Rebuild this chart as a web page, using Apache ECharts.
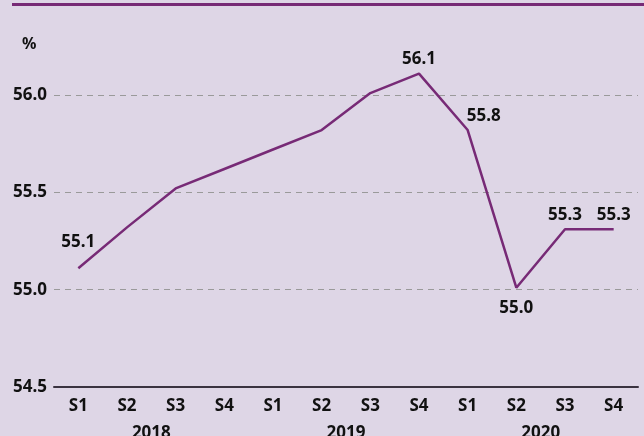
<!DOCTYPE html>
<html>
<head>
<meta charset="utf-8">
<script src="https://cdn.jsdelivr.net/npm/echarts@6/dist/echarts.min.js"></script>
<style>
  html, body { margin: 0; padding: 0; background: #ded6e6; }
  #chart { width: 644px; height: 436px; }
</style>
</head>
<body>
<div id="chart"></div>
<script>
// categories (semesters) and year groups
const semesters = ["S1", "S2", "S3", "S4", "S1", "S2", "S3", "S4", "S1", "S2", "S3", "S4"];
const years = ["2018", "2019", "2020"];
// series values
const values = [55.11, 55.32, 55.52, 55.62, 55.72, 55.82, 56.01, 56.11, 55.82, 55.01, 55.31, 55.31];
// y-axis ticks
const yMin = 54.5;
const yMax = 56.0;
const yStep = 0.5;

// which points carry a value label, and where
const labelSpots = {
  0: { position: "top", offset: [0, -12] },
  7: { position: "top", offset: [0, 0] },
  8: { position: "top", offset: [16, 1] },
  9: { position: "bottom", offset: [0, 6] },
  10: { position: "top", offset: [0, 0] },
  11: { position: "top", offset: [0, 0] },
};

const font = "Noto Sans";
const ink = "#111111";
const purple = "#772a76";

const seriesData = values.map((v, i) => {
  const spot = labelSpots[i];
  return {
    value: v,
    label: spot
      ? { show: true, position: spot.position, offset: spot.offset }
      : { show: false },
  };
});

const myChart = echarts.init(document.getElementById("chart"));
const option = {
  backgroundColor: "#ded6e6",
  animation: false,
  textStyle: { fontFamily: font },
  graphic: [
    {
      type: "rect",
      shape: { x: 12, y: 3, width: 632, height: 3 },
      style: { fill: purple },
    },
    {
      type: "text",
      left: 22,
      top: 36,
      style: { text: "%", fontSize: 16, fontWeight: "bold", fontFamily: font, fill: ink },
    },
  ],
  grid: { left: 54, right: 6, top: 95, bottom: 49, containLabel: false, outerBoundsMode: "none" },
  xAxis: [
    {
      type: "category",
      data: semesters,
      position: "bottom",
      axisLine: { show: true, lineStyle: { color: "#3a3340", width: 2 } },
      axisTick: { show: false },
      axisLabel: { color: ink, fontSize: 17, fontWeight: "bold", margin: 11, fontFamily: font },
    },
    {
      type: "category",
      data: years,
      position: "bottom",
      axisLine: { show: false },
      axisTick: { show: false },
      axisLabel: { color: ink, fontSize: 17, fontWeight: "bold", margin: 38, fontFamily: font },
    },
  ],
  yAxis: {
    type: "value",
    min: yMin,
    max: yMax,
    interval: yStep,
    axisLine: { show: false },
    axisTick: { show: false },
    axisLabel: {
      color: ink,
      fontSize: 17,
      fontWeight: "bold",
      margin: 7,
      fontFamily: font,
      formatter: (v) => v.toFixed(1),
    },
    splitLine: {
      show: true,
      showMinLine: false,
      lineStyle: { color: "#9a9a9a", type: [6, 5], width: 1 },
    },
  },
  series: [
    {
      type: "line",
      data: seriesData,
      clip: false,
      symbol: "circle",
      symbolSize: 2,
      showSymbol: true,
      itemStyle: { color: "rgba(0,0,0,0)", borderWidth: 0 },
      lineStyle: { color: purple, width: 2.5 },
      label: {
        color: ink,
        fontSize: 17,
        fontWeight: "bold",
        fontFamily: font,
        formatter: (p) => p.value.toFixed(1),
      },
    },
  ],
};
myChart.setOption(option);
window.addEventListener("resize", () => {
  myChart.resize();
});
</script>
</body>
</html>
